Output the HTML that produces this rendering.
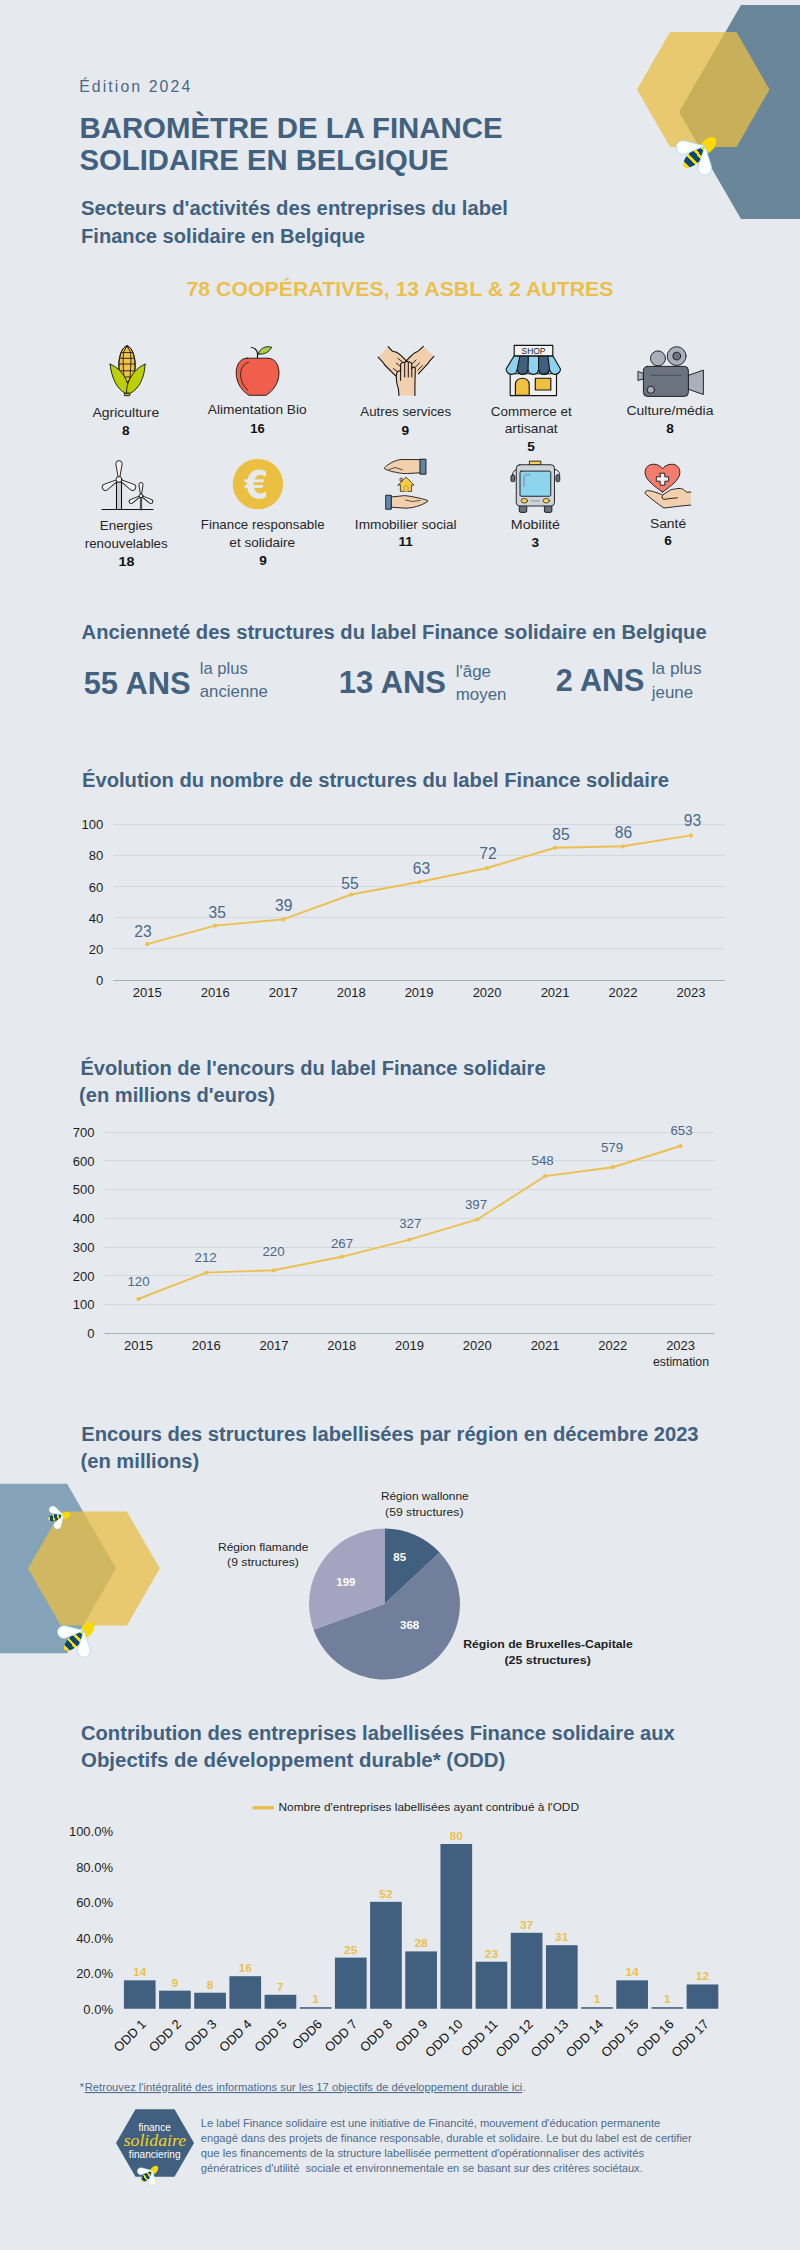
<!DOCTYPE html>
<html lang="fr">
<head>
<meta charset="utf-8">
<style>
html,body{margin:0;padding:0;}
body{width:800px;height:2250px;background:#e6eaef;overflow:hidden;font-family:"Liberation Sans",sans-serif;}
svg{display:block;}
text{font-family:"Liberation Sans",sans-serif;}
.t{font-weight:bold;fill:#41617f;}
.lb{font-size:12.6px;fill:#262626;text-anchor:middle;}
.lbn{font-size:12.4px;fill:#111;font-weight:bold;text-anchor:middle;}
.big{font-weight:bold;fill:#41617f;font-size:31px;}
.sm{fill:#4a6a8a;font-size:17px;}
.ax{font-size:13px;fill:#1e1e1e;}
.dl1{font-size:15.6px;fill:#4a6789;text-anchor:middle;}
.dl2{font-size:13.3px;fill:#4a6789;text-anchor:middle;}
.odv{font-size:11px;font-weight:bold;fill:#ebc04f;text-anchor:middle;}
.odl{font-size:12.9px;fill:#111;text-anchor:end;}
.pl{font-size:11.8px;fill:#1e1e1e;text-anchor:middle;}
.pw{font-size:11.5px;fill:#fff;font-weight:bold;text-anchor:middle;}
.ft{font-size:10.9px;fill:#4d6b8a;white-space:pre;}
</style>
</head>
<body>
<svg width="800" height="2250" viewBox="0 0 800 2250">
<defs>
  <linearGradient id="bstripe" x1="0" y1="0" x2="1" y2="0">
    <stop offset="0" stop-color="#fcd900"/><stop offset="0.13" stop-color="#fcd900"/>
    <stop offset="0.13" stop-color="#0b4a6e"/><stop offset="0.33" stop-color="#0b4a6e"/>
    <stop offset="0.33" stop-color="#fcd900"/><stop offset="0.43" stop-color="#fcd900"/>
    <stop offset="0.43" stop-color="#0b4a6e"/><stop offset="0.62" stop-color="#0b4a6e"/>
    <stop offset="0.62" stop-color="#fcd900"/><stop offset="0.72" stop-color="#fcd900"/>
    <stop offset="0.72" stop-color="#0b4a6e"/><stop offset="0.88" stop-color="#0b4a6e"/>
    <stop offset="0.88" stop-color="#fcd900"/><stop offset="1" stop-color="#fcd900"/>
  </linearGradient>
  <g id="bee">
    <ellipse cx="3" cy="-0.3" rx="10.3" ry="6.2" transform="rotate(-48 3 -0.3)" fill="#fcd900"/>
    <ellipse cx="0" cy="0" rx="14.2" ry="6.4" transform="translate(-10.6 11.2) rotate(-43)" fill="url(#bstripe)"/>
    <path d="M0,0 L19.84,-6.55 A6.9,6.9 0 1 1 19.84,6.55 Z" transform="rotate(176)" fill="#fff" stroke="#9ad6f0" stroke-width="0.7" stroke-linejoin="round"/>
    <path d="M0,0 L19.84,-6.55 A6.9,6.9 0 1 1 19.84,6.55 Z" transform="rotate(90.5)" fill="#fff" stroke="#9ad6f0" stroke-width="0.7" stroke-linejoin="round"/>
  </g>
</defs>
<!-- ===== HEADER ===== -->
<polygon points="741,5 864,5 926,112 864,219 741,219 679,112" fill="#6a869a"/>
<polygon points="670,32 736.5,32 769.5,89.5 736.5,147 670,147 637,89.5" fill="#e8bd45" fill-opacity="0.75"/>
<use href="#bee" transform="translate(705 146)"/>

<text x="79.2" y="92" font-size="15.8" fill="#4a6784" textLength="111" lengthAdjust="spacing">Édition 2024</text>
<text class="t" x="79.5" y="137.6" font-size="29.2" textLength="423" lengthAdjust="spacingAndGlyphs">BAROMÈTRE DE LA FINANCE</text>
<text class="t" x="79.5" y="169.6" font-size="29.2" textLength="369" lengthAdjust="spacingAndGlyphs">SOLIDAIRE EN BELGIQUE</text>
<text class="t" x="81" y="215" font-size="20" textLength="427" lengthAdjust="spacingAndGlyphs">Secteurs d'activités des entreprises du label</text>
<text class="t" x="81" y="243" font-size="20" textLength="284" lengthAdjust="spacingAndGlyphs">Finance solidaire en Belgique</text>
<text x="186.5" y="295.6" font-size="20.3" font-weight="bold" fill="#ebbf4b" textLength="427" lengthAdjust="spacingAndGlyphs">78 COOPÉRATIVES, 13 ASBL &amp; 2 AUTRES</text>

<!-- ===== SECTOR LABELS ===== -->
<text class="lb" x="125.9" y="416.5" textLength="66.8" lengthAdjust="spacingAndGlyphs">Agriculture</text>
<text class="lbn" x="125.9" y="434.8" textLength="7.6" lengthAdjust="spacingAndGlyphs">8</text>
<text class="lb" x="257.25" y="414.3" textLength="98.8" lengthAdjust="spacingAndGlyphs">Alimentation Bio</text>
<text class="lbn" x="257.5" y="432.8" textLength="14.4" lengthAdjust="spacingAndGlyphs">16</text>
<text class="lb" x="405.75" y="416.3" textLength="90.8" lengthAdjust="spacingAndGlyphs">Autres services</text>
<text class="lbn" x="405.2" y="434.8" textLength="7.6" lengthAdjust="spacingAndGlyphs">9</text>
<text class="lb" x="531.2" y="415.5" textLength="80.9" lengthAdjust="spacingAndGlyphs">Commerce et</text>
<text class="lb" x="531.2" y="432.7" textLength="53.0" lengthAdjust="spacingAndGlyphs">artisanat</text>
<text class="lbn" x="531" y="450.6" textLength="7.6" lengthAdjust="spacingAndGlyphs">5</text>
<text class="lb" x="670" y="414.8" textLength="87.0" lengthAdjust="spacingAndGlyphs">Culture/média</text>
<text class="lbn" x="670" y="432.7" textLength="7.6" lengthAdjust="spacingAndGlyphs">8</text>
<text class="lb" x="126.2" y="530.2" textLength="52.9" lengthAdjust="spacingAndGlyphs">Energies</text>
<text class="lb" x="126.2" y="547.5" textLength="82.9" lengthAdjust="spacingAndGlyphs">renouvelables</text>
<text class="lbn" x="126.5" y="566.2" textLength="15.9" lengthAdjust="spacingAndGlyphs">18</text>
<text class="lb" x="262.75" y="529.2" textLength="123.8" lengthAdjust="spacingAndGlyphs">Finance responsable</text>
<text class="lb" x="262.25" y="546.6" textLength="65.8" lengthAdjust="spacingAndGlyphs">et solidaire</text>
<text class="lbn" x="263" y="564.6" textLength="7.6" lengthAdjust="spacingAndGlyphs">9</text>
<text class="lb" x="405.75" y="529.2" textLength="101.8" lengthAdjust="spacingAndGlyphs">Immobilier social</text>
<text class="lbn" x="405.75" y="546.3" textLength="14.4" lengthAdjust="spacingAndGlyphs">11</text>
<text class="lb" x="535.4" y="528.9" textLength="49.3" lengthAdjust="spacingAndGlyphs">Mobilité</text>
<text class="lbn" x="535.4" y="546.6" textLength="7.6" lengthAdjust="spacingAndGlyphs">3</text>
<text class="lb" x="668" y="527.8" textLength="36.2" lengthAdjust="spacingAndGlyphs">Santé</text>
<text class="lbn" x="668" y="545.1" textLength="7.6" lengthAdjust="spacingAndGlyphs">6</text>

<!-- ===== ANCIENNETE ===== -->
<text class="t" x="81.6" y="639" font-size="20" textLength="625" lengthAdjust="spacingAndGlyphs">Ancienneté des structures du label Finance solidaire en Belgique</text>
<text class="big" x="83.7" y="693.7" textLength="106.8" lengthAdjust="spacingAndGlyphs">55 ANS</text>
<text class="sm" x="199.7" y="674" textLength="48" lengthAdjust="spacingAndGlyphs">la plus</text>
<text class="sm" x="199.7" y="696.9" textLength="68.3" lengthAdjust="spacingAndGlyphs">ancienne</text>
<text class="big" x="338.8" y="692.9" textLength="107.2" lengthAdjust="spacingAndGlyphs">13 ANS</text>
<text class="sm" x="455.8" y="676.8" textLength="35.2" lengthAdjust="spacingAndGlyphs">l'âge</text>
<text class="sm" x="455.8" y="699.7" textLength="50.7" lengthAdjust="spacingAndGlyphs">moyen</text>
<text class="big" x="555.7" y="691.4" textLength="88.8" lengthAdjust="spacingAndGlyphs">2 ANS</text>
<text class="sm" x="651.8" y="674.4" textLength="49.7" lengthAdjust="spacingAndGlyphs">la plus</text>
<text class="sm" x="651.8" y="697.8" textLength="41.4" lengthAdjust="spacingAndGlyphs">jeune</text>

<!-- ===== CHART TITLES ===== -->
<text class="t" x="82" y="786.7" font-size="20" textLength="587" lengthAdjust="spacingAndGlyphs">Évolution du nombre de structures du label Finance solidaire</text>
<text class="t" x="80.4" y="1074.7" font-size="20" textLength="465.2" lengthAdjust="spacingAndGlyphs">Évolution de l'encours du label Finance solidaire</text>
<text class="t" x="79" y="1102.3" font-size="20" textLength="196" lengthAdjust="spacingAndGlyphs">(en millions d'euros)</text>
<text class="t" x="81.2" y="1440.6" font-size="20" textLength="617.4" lengthAdjust="spacingAndGlyphs">Encours des structures labellisées par région en décembre 2023</text>
<text class="t" x="80.5" y="1468" font-size="20" textLength="118.8" lengthAdjust="spacingAndGlyphs">(en millions)</text>
<text class="t" x="81" y="1739.8" font-size="20" textLength="593.7" lengthAdjust="spacingAndGlyphs">Contribution des entreprises labellisées Finance solidaire aux</text>
<text class="t" x="81" y="1766.8" font-size="20" textLength="424.3" lengthAdjust="spacingAndGlyphs">Objectifs de développement durable* (ODD)</text>

<!-- ===== PIE SECTION ===== -->
<polygon points="116,1568.5 67.1,1483.8 -30.7,1483.8 -79.6,1568.5 -30.7,1653.2 67.1,1653.2" fill="#86a4b9"/>
<polygon points="159.8,1568.5 126.85,1511.4 60.95,1511.4 28,1568.5 60.95,1625.6 126.85,1625.6" fill="#e8bd45" fill-opacity="0.75"/>
<use href="#bee" transform="translate(63.5 1515) rotate(30) scale(0.54)"/>
<use href="#bee" transform="translate(84 1630.6) scale(0.92)"/>

<path d="M384.5,1604 L384.50,1528.50 A75.5,75.5 0 0 1 439.66,1552.44 Z" fill="#41607f"/>
<path d="M384.5,1604 L439.66,1552.44 A75.5,75.5 0 1 1 313.50,1629.67 Z" fill="#717f9d"/>
<path d="M384.5,1604 L313.50,1629.67 A75.5,75.5 0 0 1 384.50,1528.50 Z" fill="#a4a3c0"/>
<text class="pw" x="399.7" y="1561">85</text>
<text class="pw" x="345.9" y="1585.5">199</text>
<text class="pw" x="409.6" y="1628.8">368</text>
<text class="pl" x="424.8" y="1500.2" textLength="87.8" lengthAdjust="spacingAndGlyphs">Région wallonne</text>
<text class="pl" x="424.3" y="1515.6" textLength="78.4" lengthAdjust="spacingAndGlyphs">(59 structures)</text>
<text class="pl" x="263.2" y="1550.8" textLength="90.4" lengthAdjust="spacingAndGlyphs">Région flamande</text>
<text class="pl" x="263" y="1566.2" textLength="71.8" lengthAdjust="spacingAndGlyphs">(9 structures)</text>
<text class="pl" x="548" y="1648" font-weight="bold" fill="#111" textLength="169.6" lengthAdjust="spacingAndGlyphs">Région de Bruxelles-Capitale</text>
<text class="pl" x="547.6" y="1664.2" font-weight="bold" fill="#111" textLength="86.4" lengthAdjust="spacingAndGlyphs">(25 structures)</text>

<!-- ===== ODD legend ===== -->
<rect x="252.5" y="1806" width="21.5" height="3.5" fill="#ebc04f"/>
<text x="278.5" y="1810.8" font-size="11.6" fill="#1e1e1e" textLength="300.5" lengthAdjust="spacingAndGlyphs">Nombre d'entreprises labellisées ayant contribué à l'ODD</text>
<!-- ===== CHART 1 ===== -->
<line x1="113.25" y1="948.5" x2="725" y2="948.5" stroke="#d3d8dd"/>
<line x1="113.25" y1="917.5" x2="725" y2="917.5" stroke="#d3d8dd"/>
<line x1="113.25" y1="886.5" x2="725" y2="886.5" stroke="#d3d8dd"/>
<line x1="113.25" y1="855.5" x2="725" y2="855.5" stroke="#d3d8dd"/>
<line x1="113.25" y1="824.5" x2="725" y2="824.5" stroke="#d3d8dd"/>
<line x1="113.25" y1="980.5" x2="725" y2="980.5" stroke="#a9afb6"/>
<text class="ax" x="103.3" y="984.8" text-anchor="end">0</text>
<text class="ax" x="103.3" y="953.7" text-anchor="end">20</text>
<text class="ax" x="103.3" y="922.6" text-anchor="end">40</text>
<text class="ax" x="103.3" y="891.5" text-anchor="end">60</text>
<text class="ax" x="103.3" y="860.4" text-anchor="end">80</text>
<text class="ax" x="103.3" y="829.3" text-anchor="end">100</text>
<polyline points="147.2,944.2 215.2,925.6 283.2,919.4 351.2,894.5 419.1,882.0 487.1,868.0 555.1,847.8 623.0,846.3 691.0,835.4" fill="none" stroke="#ebc04f" stroke-width="1.9"/>
<circle cx="147.2" cy="944.2" r="2.1" fill="#ebc04f"/>
<circle cx="215.2" cy="925.6" r="2.1" fill="#ebc04f"/>
<circle cx="283.2" cy="919.4" r="2.1" fill="#ebc04f"/>
<circle cx="351.2" cy="894.5" r="2.1" fill="#ebc04f"/>
<circle cx="419.1" cy="882.0" r="2.1" fill="#ebc04f"/>
<circle cx="487.1" cy="868.0" r="2.1" fill="#ebc04f"/>
<circle cx="555.1" cy="847.8" r="2.1" fill="#ebc04f"/>
<circle cx="623.0" cy="846.3" r="2.1" fill="#ebc04f"/>
<circle cx="691.0" cy="835.4" r="2.1" fill="#ebc04f"/>
<text class="ax" x="147.2" y="997" text-anchor="middle">2015</text>
<text class="ax" x="215.2" y="997" text-anchor="middle">2016</text>
<text class="ax" x="283.2" y="997" text-anchor="middle">2017</text>
<text class="ax" x="351.2" y="997" text-anchor="middle">2018</text>
<text class="ax" x="419.1" y="997" text-anchor="middle">2019</text>
<text class="ax" x="487.1" y="997" text-anchor="middle">2020</text>
<text class="ax" x="555.1" y="997" text-anchor="middle">2021</text>
<text class="ax" x="623.0" y="997" text-anchor="middle">2022</text>
<text class="ax" x="691.0" y="997" text-anchor="middle">2023</text>
<text class="dl1" x="143" y="937">23</text>
<text class="dl1" x="217.25" y="917.5">35</text>
<text class="dl1" x="283.75" y="911.25">39</text>
<text class="dl1" x="350" y="888.5">55</text>
<text class="dl1" x="421.5" y="874">63</text>
<text class="dl1" x="488" y="859">72</text>
<text class="dl1" x="561" y="839.7">85</text>
<text class="dl1" x="623.4" y="837.9">86</text>
<text class="dl1" x="692.5" y="825.7">93</text>
<!-- ===== CHART 2 ===== -->
<line x1="104.5" y1="1304.5" x2="714.5" y2="1304.5" stroke="#d3d8dd"/>
<line x1="104.5" y1="1275.5" x2="714.5" y2="1275.5" stroke="#d3d8dd"/>
<line x1="104.5" y1="1247.5" x2="714.5" y2="1247.5" stroke="#d3d8dd"/>
<line x1="104.5" y1="1218.5" x2="714.5" y2="1218.5" stroke="#d3d8dd"/>
<line x1="104.5" y1="1189.5" x2="714.5" y2="1189.5" stroke="#d3d8dd"/>
<line x1="104.5" y1="1160.5" x2="714.5" y2="1160.5" stroke="#d3d8dd"/>
<line x1="104.5" y1="1132.5" x2="714.5" y2="1132.5" stroke="#d3d8dd"/>
<line x1="104.5" y1="1333.5" x2="714.5" y2="1333.5" stroke="#a9afb6"/>
<text class="ax" x="94.5" y="1338.0" text-anchor="end">0</text>
<text class="ax" x="94.5" y="1309.3" text-anchor="end">100</text>
<text class="ax" x="94.5" y="1280.5" text-anchor="end">200</text>
<text class="ax" x="94.5" y="1251.8" text-anchor="end">300</text>
<text class="ax" x="94.5" y="1223.0" text-anchor="end">400</text>
<text class="ax" x="94.5" y="1194.3" text-anchor="end">500</text>
<text class="ax" x="94.5" y="1165.5" text-anchor="end">600</text>
<text class="ax" x="94.5" y="1136.8" text-anchor="end">700</text>
<polyline points="138.4,1299.0 206.2,1272.6 273.9,1270.3 341.7,1256.8 409.5,1239.6 477.3,1219.5 545.1,1176.1 612.8,1167.2 680.6,1146.0" fill="none" stroke="#ebc04f" stroke-width="1.9"/>
<circle cx="138.4" cy="1299.0" r="2.1" fill="#ebc04f"/>
<circle cx="206.2" cy="1272.6" r="2.1" fill="#ebc04f"/>
<circle cx="273.9" cy="1270.3" r="2.1" fill="#ebc04f"/>
<circle cx="341.7" cy="1256.8" r="2.1" fill="#ebc04f"/>
<circle cx="409.5" cy="1239.6" r="2.1" fill="#ebc04f"/>
<circle cx="477.3" cy="1219.5" r="2.1" fill="#ebc04f"/>
<circle cx="545.1" cy="1176.1" r="2.1" fill="#ebc04f"/>
<circle cx="612.8" cy="1167.2" r="2.1" fill="#ebc04f"/>
<circle cx="680.6" cy="1146.0" r="2.1" fill="#ebc04f"/>
<text class="ax" x="138.4" y="1350" text-anchor="middle">2015</text>
<text class="ax" x="206.2" y="1350" text-anchor="middle">2016</text>
<text class="ax" x="273.9" y="1350" text-anchor="middle">2017</text>
<text class="ax" x="341.7" y="1350" text-anchor="middle">2018</text>
<text class="ax" x="409.5" y="1350" text-anchor="middle">2019</text>
<text class="ax" x="477.3" y="1350" text-anchor="middle">2020</text>
<text class="ax" x="545.1" y="1350" text-anchor="middle">2021</text>
<text class="ax" x="612.8" y="1350" text-anchor="middle">2022</text>
<text class="ax" x="680.6" y="1350" text-anchor="middle">2023</text>
<text class="ax" x="681" y="1366" text-anchor="middle" font-size="11" textLength="56" lengthAdjust="spacingAndGlyphs">estimation</text>
<text class="dl2" x="138.5" y="1286.25">120</text>
<text class="dl2" x="205.6" y="1262">212</text>
<text class="dl2" x="273.5" y="1256.25">220</text>
<text class="dl2" x="342" y="1247.5">267</text>
<text class="dl2" x="410.25" y="1227.5">327</text>
<text class="dl2" x="476" y="1208.9">397</text>
<text class="dl2" x="542.6" y="1164.75">548</text>
<text class="dl2" x="612" y="1151.7">579</text>
<text class="dl2" x="681.5" y="1134.6">653</text>
<!-- ===== ODD CHART ===== -->
<rect x="123.90" y="1980.33" width="31.7" height="28.42" fill="#41607f"/>
<text class="odv" x="139.75" y="1976.33" textLength="13.3" lengthAdjust="spacingAndGlyphs">14</text>
<text class="odl" transform="translate(146.95,2025) rotate(-45)">ODD 1</text>
<rect x="159.07" y="1990.66" width="31.7" height="18.09" fill="#41607f"/>
<text class="odv" x="174.92" y="1986.66" textLength="6.6" lengthAdjust="spacingAndGlyphs">9</text>
<text class="odl" transform="translate(182.12,2025) rotate(-45)">ODD 2</text>
<rect x="194.24" y="1992.72" width="31.7" height="16.03" fill="#41607f"/>
<text class="odv" x="210.09" y="1988.72" textLength="6.6" lengthAdjust="spacingAndGlyphs">8</text>
<text class="odl" transform="translate(217.29,2025) rotate(-45)">ODD 3</text>
<rect x="229.41" y="1976.19" width="31.7" height="32.56" fill="#41607f"/>
<text class="odv" x="245.26" y="1972.19" textLength="13.3" lengthAdjust="spacingAndGlyphs">16</text>
<text class="odl" transform="translate(252.46,2025) rotate(-45)">ODD 4</text>
<rect x="264.58" y="1994.79" width="31.7" height="13.96" fill="#41607f"/>
<text class="odv" x="280.43" y="1990.79" textLength="6.6" lengthAdjust="spacingAndGlyphs">7</text>
<text class="odl" transform="translate(287.63,2025) rotate(-45)">ODD 5</text>
<rect x="299.75" y="2007.18" width="31.7" height="1.57" fill="#41607f"/>
<text class="odv" x="315.60" y="2003.18" textLength="6.6" lengthAdjust="spacingAndGlyphs">1</text>
<text class="odl" transform="translate(322.80,2025) rotate(-45)">ODD6</text>
<rect x="334.92" y="1957.60" width="31.7" height="51.15" fill="#41607f"/>
<text class="odv" x="350.77" y="1953.60" textLength="13.3" lengthAdjust="spacingAndGlyphs">25</text>
<text class="odl" transform="translate(357.97,2025) rotate(-45)">ODD 7</text>
<rect x="370.09" y="1901.82" width="31.7" height="106.93" fill="#41607f"/>
<text class="odv" x="385.94" y="1897.82" textLength="13.3" lengthAdjust="spacingAndGlyphs">52</text>
<text class="odl" transform="translate(393.14,2025) rotate(-45)">ODD 8</text>
<rect x="405.26" y="1951.40" width="31.7" height="57.35" fill="#41607f"/>
<text class="odv" x="421.11" y="1947.40" textLength="13.3" lengthAdjust="spacingAndGlyphs">28</text>
<text class="odl" transform="translate(428.31,2025) rotate(-45)">ODD 9</text>
<rect x="440.43" y="1843.97" width="31.7" height="164.78" fill="#41607f"/>
<text class="odv" x="456.28" y="1839.97" textLength="13.3" lengthAdjust="spacingAndGlyphs">80</text>
<text class="odl" transform="translate(463.48,2025) rotate(-45)">ODD 10</text>
<rect x="475.60" y="1961.73" width="31.7" height="47.02" fill="#41607f"/>
<text class="odv" x="491.45" y="1957.73" textLength="13.3" lengthAdjust="spacingAndGlyphs">23</text>
<text class="odl" transform="translate(498.65,2025) rotate(-45)">ODD 11</text>
<rect x="510.77" y="1932.81" width="31.7" height="75.94" fill="#41607f"/>
<text class="odv" x="526.62" y="1928.81" textLength="13.3" lengthAdjust="spacingAndGlyphs">37</text>
<text class="odl" transform="translate(533.82,2025) rotate(-45)">ODD 12</text>
<rect x="545.94" y="1945.20" width="31.7" height="63.55" fill="#41607f"/>
<text class="odv" x="561.79" y="1941.20" textLength="13.3" lengthAdjust="spacingAndGlyphs">31</text>
<text class="odl" transform="translate(568.99,2025) rotate(-45)">ODD 13</text>
<rect x="581.11" y="2007.18" width="31.7" height="1.57" fill="#41607f"/>
<text class="odv" x="596.96" y="2003.18" textLength="6.6" lengthAdjust="spacingAndGlyphs">1</text>
<text class="odl" transform="translate(604.16,2025) rotate(-45)">ODD 14</text>
<rect x="616.28" y="1980.33" width="31.7" height="28.42" fill="#41607f"/>
<text class="odv" x="632.13" y="1976.33" textLength="13.3" lengthAdjust="spacingAndGlyphs">14</text>
<text class="odl" transform="translate(639.33,2025) rotate(-45)">ODD 15</text>
<rect x="651.45" y="2007.18" width="31.7" height="1.57" fill="#41607f"/>
<text class="odv" x="667.30" y="2003.18" textLength="6.6" lengthAdjust="spacingAndGlyphs">1</text>
<text class="odl" transform="translate(674.50,2025) rotate(-45)">ODD 16</text>
<rect x="686.62" y="1984.46" width="31.7" height="24.29" fill="#41607f"/>
<text class="odv" x="702.47" y="1980.46" textLength="13.3" lengthAdjust="spacingAndGlyphs">12</text>
<text class="odl" transform="translate(709.67,2025) rotate(-45)">ODD 17</text>
<text class="ax" x="113" y="2013.5" text-anchor="end" font-size="13.3">0.0%</text>
<text class="ax" x="113" y="1978.0" text-anchor="end" font-size="13.3">20.0%</text>
<text class="ax" x="113" y="1942.5" text-anchor="end" font-size="13.3">40.0%</text>
<text class="ax" x="113" y="1907.0" text-anchor="end" font-size="13.3">60.0%</text>
<text class="ax" x="113" y="1871.5" text-anchor="end" font-size="13.3">80.0%</text>
<text class="ax" x="113" y="1836.0" text-anchor="end" font-size="13.3">100.0%</text><!-- ===== ICONS ===== -->
<defs>
  <clipPath id="cobclip"><path d="M127,346 C130,346.5 132.5,350 134,356 C135.3,361 135.5,366 134.8,370.75 C134,375 131,379 127,382.5 C123,379 120,375 119.3,370.75 C118.5,366 118.7,361 120,356 C121.5,350 124,346.5 127,346 Z"/></clipPath>
</defs>
<g stroke="#141414" stroke-width="0.9" stroke-linejoin="round" stroke-linecap="round">
<!-- corn -->
<path d="M127,346 C130,346.5 132.5,350 134,356 C135.3,361 135.5,366 134.8,370.75 C134,375 131,379 127,382.5 C123,379 120,375 119.3,370.75 C118.5,366 118.7,361 120,356 C121.5,350 124,346.5 127,346 Z" fill="#f1c24c"/>
<g clip-path="url(#cobclip)" fill="none" stroke-width="0.85">
  <path d="M118,352.6 H136 M118,358.3 H136 M118,364 H136 M118,370.8 H136 M118,377 H136"/>
  <path d="M127,346 L123.6,352 C122.8,358 123,368 124.5,382 M127,346 L130.4,352 C131.2,358 131,368 129.5,382"/>
</g>
<path d="M127,346 C130,346.5 132.5,350 134,356 C135.3,361 135.5,366 134.8,370.75 C134,375 131,379 127,382.5 C123,379 120,375 119.3,370.75 C118.5,366 118.7,361 120,356 C121.5,350 124,346.5 127,346 Z" fill="none"/>
<path d="M110.1,364.2 C118,367 124,374 127,382 C128.5,386 129,390 129,393.3 L125.3,393.3 C117,389 111.5,378 110.1,364.2 Z" fill="#bccf00"/>
<path d="M145.1,364.2 C144.5,378 139,389 130.1,393.3 L126.5,393.3 C126.5,388 127.5,384 129.3,380 C132.5,373 138,367 145.1,364.2 Z" fill="#bccf00"/>
<rect x="124.8" y="393.3" width="5" height="2.4" fill="#bccf00"/>

<!-- apple -->
<path d="M257.5,358.2 L257.5,353 C257,349.5 254,347.5 251.3,347.5" fill="none" stroke-width="1.2"/>
<path d="M258.2,354 C260,348 266,345.5 271.6,347.2 C269.5,352 264,355 258.2,354 Z" fill="#a6cf45"/>
<path d="M247,358.2 L268,358.2 C275,358.2 279,365 279,373 C279,383 273,391 266,395.3 L249,395.3 C242,391 236.2,383 236.2,373 C236.2,365 240,358.2 247,358.2 Z" fill="#ef5f4b"/>
<path d="M248.6,362.3 C242,364 239.8,371 240.8,377.5 C241.8,383.5 244.8,387.8 247.9,390.1" fill="none" stroke-width="0.8"/>

<!-- hands (autres services) -->
<path d="M378.1,357.1 L388.2,346.65 C390,348.8 391.5,350.6 392.8,351.3 C394,351.8 395,351.9 395.9,352.1 C397.8,353 399.3,354 400.6,355.2 L406.4,360.8 L410,368 L400,377.5 L395.9,376.1 L384.3,364.5 C384,363.8 383.9,363.3 383.5,362.9 Z" fill="#f2d0ae" stroke="none"/>
<path d="M388.2,346.65 C390,348.8 391.5,350.6 392.8,351.3 C394,351.8 395,351.9 395.9,352.1 C397.8,353 399.3,354 400.6,355.2 L406.4,360.8 M378.1,357.1 L383.5,362.9 C383.9,363.3 384,363.8 384.3,364.5 L395.9,376.1" fill="none" stroke-width="1.1"/>
<path d="M423.4,346.3 L433.9,356.3 L429.3,361.4 C428.8,362 428.6,362.4 428.5,362.9 L418.4,373.8 L410,372 L405.6,361.5 L410,357 C411.5,355.5 412.6,354.4 413.8,353.6 C415.5,352.6 417,351.8 418.4,350.9 Z" fill="#f2d0ae" stroke="none"/>
<path d="M423.4,346.3 L418.4,350.9 C417,351.8 415.5,352.6 413.8,353.6 C412.6,354.4 411.5,355.5 410,357 L405.6,361.5 M433.9,356.3 L429.3,361.4 C428.8,362 428.6,362.4 428.5,362.9 L418.4,373.8" fill="none" stroke-width="1.1"/>
<path d="M397.8,358.2 L403.3,362.8 M396.3,363.2 L400.3,366.2 M393.4,368.6 L398,372 M416,360 L412.5,363.6 M419.5,362.8 L415.8,366.6 M422.5,365.5 L417.8,370.2" fill="none" stroke-width="0.9"/>
<path d="M399,395.5 C398.8,392.5 398.6,390.5 398.3,388.5 C397.5,386 396.8,384 396.7,382.3 C396.4,380 396.3,378 396.3,376.1 C396.3,374.5 396.6,373 397.1,372.2 C397.6,371 399.8,370.3 400.6,371.5 L400.6,364.5 C400.6,362.5 404.6,361.5 404.8,363 C405,361 408.2,360.8 408.3,362.5 C408.6,361.8 411.8,362 411.8,364 L411.8,368.5 C412.5,366.5 415.3,366.8 415.3,368.3 L415,380.8 C414.9,386 414.9,391 414.9,395.5 Z" fill="#f2d0ae" stroke="none"/>
<path d="M399,395.5 C398.8,392.5 398.6,390.5 398.3,388.5 C397.5,386 396.8,384 396.7,382.3 C396.4,380 396.3,378 396.3,376.1 C396.3,374.5 396.6,373 397.1,372.2 C397.6,371 399.8,370.3 400.6,371.5 L400.6,364.5 C400.6,362.5 404.6,361.5 404.8,363 C405,361 408.2,360.8 408.3,362.5 C408.6,361.8 411.8,362 411.8,364 L411.8,368.5 C412.5,366.5 415.3,366.8 415.3,368.3 L415,380.8 C414.9,386 414.9,391 414.9,395.5" fill="none" stroke-width="1.1"/>
<path d="M400.6,371.5 V380.5 M404.7,363.5 V377 M408.3,363 V377 M411.8,368 V377" fill="none" stroke-width="1"/>

<!-- shop -->
<g stroke-width="1.15">
<rect x="510.2" y="373.7" width="46.3" height="21.9" fill="#f0f0f0"/>
<path d="M514.2,355.8 L552.8,355.8 L560.5,369 C560.5,372 558,374.3 555.2,374.3 C552.5,374.3 550,372 549.5,369.5 C548.8,372.3 546.5,374.3 543.9,374.3 C541.2,374.3 539,372.3 538.6,369.5 C538,372.3 535.8,374.3 533.3,374.3 C530.6,374.3 528.5,372.3 528,369.5 C527.5,372.3 525.2,374.3 522.7,374.3 C520,374.3 517.8,372.3 517.2,369.5 C516.8,372.3 514.3,374.3 511.5,374.3 C508.5,374.3 506.1,372 506.1,369 Z" fill="#8dd3f0"/>
<path d="M519.9,355.8 L528.4,355.8 L528,369.5 C527.5,372.3 525.2,374.3 522.7,374.3 C520,374.3 517.8,372.3 517.2,369.5 Z" fill="#41607f"/>
<path d="M538.6,355.8 L547.9,355.8 L549.5,369.5 C548.8,372.3 546.5,374.3 543.9,374.3 C541.2,374.3 539,372.3 538.6,369.5 Z" fill="#41607f"/>
<rect x="514.2" y="345.3" width="38.6" height="10.5" fill="#f2f2f2"/>
<path d="M515.4,395.2 L515.4,384 C515.4,380.6 518.5,378.2 522.3,378.2 C526.1,378.2 529.2,380.6 529.2,384 L529.2,395.2 Z" fill="#f0c040"/>
<rect x="535.3" y="378.2" width="15.5" height="11.8" fill="#f0c040"/>
</g>
</g>
<text x="533.5" y="353.9" font-size="9.2" fill="#1a1a1a" text-anchor="middle" textLength="23.8" lengthAdjust="spacingAndGlyphs">SHOP</text>

<g stroke="#141414" stroke-width="0.9" stroke-linejoin="round" stroke-linecap="round">
<!-- camera -->
<polygon points="638.3,371.5 643.4,373.4 643.4,379 638.3,380.4" fill="#a9b0bb"/>
<polygon points="688.4,375.3 703.4,370.1 703.4,394.5 688.4,389.3" fill="#a9b0bb"/>
<circle cx="658" cy="358.4" r="7.5" fill="#a9b0bb"/>
<circle cx="676.7" cy="356.1" r="9.4" fill="#a9b0bb"/>
<circle cx="676.7" cy="356.1" r="3.9" fill="#6b7280"/>
<rect x="643.4" y="366.4" width="45" height="30" rx="4" fill="#6b7280"/>
<line x1="650.9" y1="375.3" x2="680.9" y2="375.3" stroke="#4a4f58" stroke-width="1"/>
<circle cx="650.9" cy="389.8" r="3.6" fill="#a9b0bb"/>

<!-- wind turbines -->
<line x1="102" y1="509.5" x2="153" y2="509.5" stroke-width="1.2"/>
<rect x="116.5" y="482" width="5" height="27.5" fill="#cdd2da" stroke-width="1.1"/>
<g transform="translate(119 479.4)" fill="#f2f2f2">
  <path d="M-0.9,-2.5 L-3.2,-15.6 A3.2,3.2 0 0 1 3.2,-15.6 L0.9,-2.5 Z"/>
  <path d="M-0.9,-2.5 L-3.2,-15.6 A3.2,3.2 0 0 1 3.2,-15.6 L0.9,-2.5 Z" transform="rotate(120)"/>
  <path d="M-0.9,-2.5 L-3.2,-15.6 A3.2,3.2 0 0 1 3.2,-15.6 L0.9,-2.5 Z" transform="rotate(240)"/>
  <circle r="2.9"/>
</g>
<line x1="141" y1="497" x2="141" y2="509.5" stroke-width="2.2" stroke="#2a2a2a"/>
<line x1="141" y1="497.5" x2="141" y2="509" stroke-width="0.5" stroke="#cdd2da"/>
<g transform="translate(141 495.8)" fill="#f2f2f2">
  <path d="M-0.6,-1.8 L-2.1,-11.2 A2.1,2.1 0 0 1 2.1,-11.2 L0.6,-1.8 Z"/>
  <path d="M-0.6,-1.8 L-2.1,-11.2 A2.1,2.1 0 0 1 2.1,-11.2 L0.6,-1.8 Z" transform="rotate(120)"/>
  <path d="M-0.6,-1.8 L-2.1,-11.2 A2.1,2.1 0 0 1 2.1,-11.2 L0.6,-1.8 Z" transform="rotate(240)"/>
  <circle r="1.9"/>
</g>
</g>

<!-- euro coin -->
<circle cx="257.9" cy="484.1" r="25.2" fill="#ebbf42"/>
<path d="M266,471.6 C263.8,470.3 261.6,469.6 259,469.6 C251.5,469.6 246.9,476 246.9,484.2 C246.9,492.5 251.5,498.9 259,498.9 C261.6,498.9 264,498.2 266,496.9 L266,491.3 C264.5,492.8 262.4,493.5 260.2,493.5 C256.2,493.5 253.7,489.5 253.7,484.2 C253.7,479 256.2,475 260.2,475 C262.4,475 264.5,475.7 266,477.1 Z" fill="#e6eaef"/>
<rect x="244.5" y="479.3" width="19.2" height="2.9" fill="#e6eaef"/>
<rect x="244.5" y="485" width="18.4" height="2.9" fill="#e6eaef"/>

<g stroke="#141414" stroke-width="0.9" stroke-linejoin="round" stroke-linecap="round">
<!-- immobilier social -->
<path d="M420.35,459.6 L401.1,459.55 C395,460 388,464 384.3,468 C385,469.5 386.5,470 387.8,470 C390.5,471.2 393,472 395.5,472.15 C399.5,473.2 403.5,473.8 407.4,473.5 L420.35,472.8 Z" fill="#f2d0ae"/>
<path d="M389,469.5 L395,467.5 L402.5,469.8" fill="none" stroke-width="0.7"/>
<rect x="420.35" y="459.2" width="5.6" height="15" fill="#5f87aa"/>
<path d="M391.3,497 L404.6,495.6 C409,496 413.5,496.8 417.2,497.7 C421,498.5 425,499.5 427.7,500.5 C428,501.2 427.7,501.5 427.7,501.5 C425,503 422.5,504.5 420,505.4 C415.5,507 411,508 406,508.2 L391.3,507.2 Z" fill="#f2d0ae"/>
<path d="M405.5,500 L412,501.5 L420,500.5" fill="none" stroke-width="0.7"/>
<rect x="386.05" y="495.25" width="5.25" height="14" fill="#5f87aa"/>
<path d="M397.95,485.1 L406,477.05 L414.05,485.1 L411.6,485.1 L411.6,491.4 L400.4,491.4 L400.4,485.1 Z" fill="#f7c948" stroke-width="0.7"/>
<rect x="400.4" y="478.2" width="1.8" height="3" fill="#f7c948" stroke-width="0.6"/>
<path d="M403.9,491.4 V488 C403.9,486.6 404.8,485.8 406,485.8 C407.2,485.8 408.1,486.6 408.1,488 V491.4" fill="#f7c948" stroke="#9a8a50" stroke-width="0.6"/>

<!-- bus -->
<path d="M517.75,469.25 C515,469.5 512.8,471.5 512.5,474.5 M554.5,469.25 C557.2,469.5 559.4,471.5 559.75,474.5" fill="none" stroke-width="0.9"/>
<rect x="511" y="474.9" width="3.75" height="6.8" rx="1.4" fill="#6b7280"/>
<rect x="556" y="474.9" width="3.75" height="6.8" rx="1.4" fill="#6b7280"/>
<rect x="519.25" y="505" width="7.5" height="7.4" rx="1.5" fill="#6b7280"/>
<rect x="544.4" y="505" width="7.5" height="7.4" rx="1.5" fill="#6b7280"/>
<rect x="529.75" y="461.15" width="11.1" height="3.8" fill="#f7d35b"/>
<rect x="516.25" y="464.75" width="38.25" height="41.25" rx="3.5" fill="#cfd3da"/>
<rect x="520" y="471.1" width="30.75" height="25.15" rx="1.3" fill="#8dd4ef"/>
<path d="M524.1,486.5 V476.5 C524.1,475.5 525,474.8 526,474.8 H529.75" fill="none" stroke="#7a7f86" stroke-width="0.9"/>
<ellipse cx="524.35" cy="500.75" rx="3.2" ry="2.3" fill="#f7d35b" stroke-width="0.7"/>
<ellipse cx="546.25" cy="500.75" rx="3.2" ry="2.3" fill="#f7d35b" stroke-width="0.7"/>
<rect x="530.9" y="500.2" width="9" height="1.4" fill="#9ea3aa" stroke="none"/>

<!-- sante -->
<path d="M690.8,492.1 L686.4,492.1 C684,490 682.5,488.6 680.6,488.5 C677,488.3 673.5,489.2 670.5,489.9 L662.5,495 C660.5,494 652,490.5 647.3,490.6 C645.5,490.8 644.7,492.5 645.4,493.8 C651,498.5 657,503.5 663.9,508 C670,507.5 680,505.8 690.8,505.1 Z" fill="#f2d0ae" stroke="none"/>
<path d="M690.8,492.1 L686.4,492.1 C684,490 682.5,488.6 680.6,488.5 C677,488.3 673.5,489.2 670.5,489.9 L662.5,495 C660.5,494 652,490.5 647.3,490.6 C645.5,490.8 644.7,492.5 645.4,493.8 C651,498.5 657,503.5 663.9,508 C670,507.5 680,505.8 690.8,505.1" fill="none"/>
<path d="M662.5,495.5 C661.5,497.5 662,499.2 664,499.3 L677.5,497.8" fill="none" stroke-width="0.9"/>
<path d="M662.5,492.1 C655,486.5 645.1,480 645.1,472.5 C645.1,467 649,464.2 653.8,464.2 C658,464.2 661,466.5 662.5,468.9 C664,466.5 667.5,464.2 671.9,464.2 C676.5,464.2 679.9,467.5 679.9,472.5 C679.9,480 670,486.5 662.5,492.1 Z" fill="#f47c6c"/>
<path d="M660.2,473.2 H664.8 V476.8 H668.6 V481.2 H664.8 V485.2 H660.2 V481.2 H656.3 V476.8 H660.2 Z" fill="#f2f2f2"/>
</g>
<!-- ===== FOOTER ===== -->
<text class="ft" x="79.75" y="2091">*</text>
<text class="ft" x="84.75" y="2091" textLength="437.5" lengthAdjust="spacingAndGlyphs" text-decoration="underline">Retrouvez l'intégralité des informations sur les 17 objectifs de développement durable ici</text>
<text class="ft" x="522.4" y="2091">.</text>
<polygon points="194,2143 174.5,2109.2 135.5,2109.2 116,2143 135.5,2176.8 174.5,2176.8" fill="#41607f"/>
<text x="154.6" y="2130.75" font-size="10.6" fill="#fff" text-anchor="middle" textLength="32.4" lengthAdjust="spacingAndGlyphs">finance</text>
<text x="154.9" y="2145.75" font-size="17" fill="#f3d31c" font-style="italic" text-anchor="middle" textLength="62.5" lengthAdjust="spacingAndGlyphs" style="font-family:'Liberation Serif',serif">solidaire</text>
<text x="154.75" y="2157.75" font-size="10.6" fill="#fff" text-anchor="middle" textLength="51.8" lengthAdjust="spacingAndGlyphs">financiering</text>
<use href="#bee" transform="translate(152.3 2170.5) scale(0.52)"/>
<text class="ft" x="200.85" y="2127" textLength="459.4" lengthAdjust="spacingAndGlyphs">Le label Finance solidaire est une initiative de Financité, mouvement d'éducation permanente</text>
<text class="ft" x="200.85" y="2141.9" textLength="490.9" lengthAdjust="spacingAndGlyphs">engagé dans des projets de finance responsable, durable et solidaire. Le but du label est de certifier</text>
<text class="ft" x="200.85" y="2156.7" textLength="443.2" lengthAdjust="spacingAndGlyphs">que les financements de la structure labellisée permettent d'opérationnaliser des activités</text>
<text class="ft" x="200.85" y="2171.6" textLength="441.9" lengthAdjust="spacingAndGlyphs">génératrices d'utilité  sociale et environnementale en se basant sur des critères sociétaux.</text>
</svg>
</body>
</html>
